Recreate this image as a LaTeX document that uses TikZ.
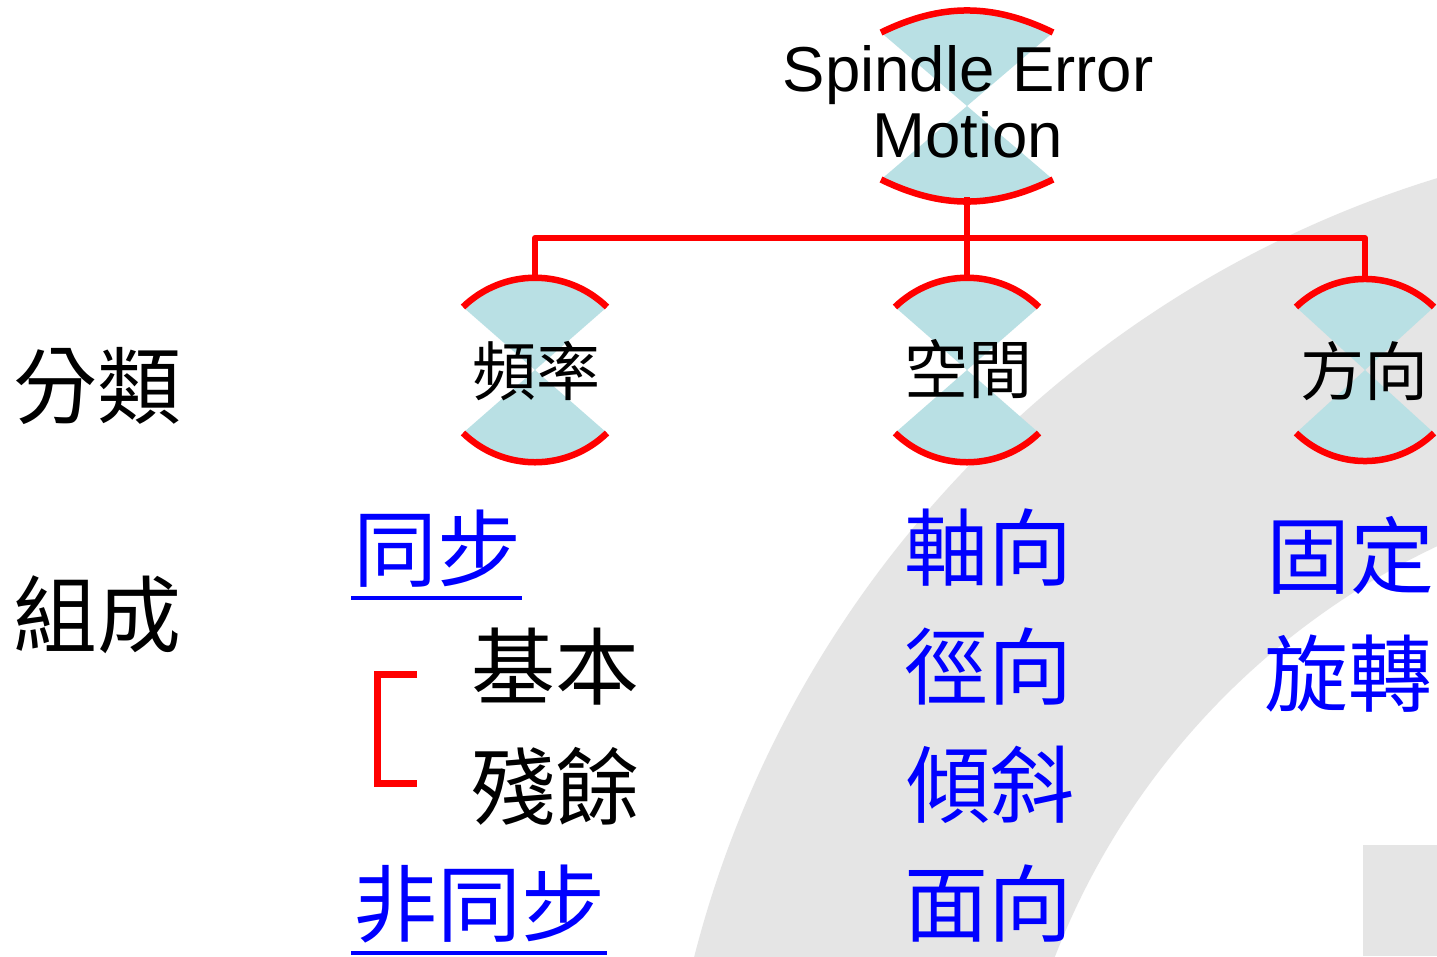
\documentclass[tikz,border=0pt]{standalone}
\usepackage{fontspec}
\setmainfont{Liberation Sans}
\newfontfamily\cjk{Noto Sans CJK TC}
\definecolor{bandgray}{RGB}{229,229,229}
\definecolor{hgblue}{RGB}{185,224,228}
\definecolor{hgred}{RGB}{255,0,0}
\definecolor{txtblue}{RGB}{0,0,255}
% #1 cx, #2 cy, #3 half width, #4 dy to arc ends, #5 dy to apex, #6 bend angle, #7 name
\newcommand\hglass[7]{%
  \fill[hgblue] (#1-#3,#2-#4) to[bend left=#6] (#1+#3,#2-#4) -- (#1,#2)
     -- (#1+#3,#2+#4) to[bend left=#6] (#1-#3,#2+#4) -- (#1,#2) -- cycle;
  \draw[hgline] (#1-#3,#2-#4) to[bend left=#6] (#1+#3,#2-#4);
  \draw[hgline] (#1-#3,#2+#4) to[bend right=#6] (#1+#3,#2+#4);
  \coordinate (#7top) at (#1,#2-#5);
  \coordinate (#7bot) at (#1,#2+#5);
}
\begin{document}
\begin{tikzpicture}[x=1pt,y=-1pt,
  hgline/.style={draw=hgred,line width=6.5pt},
  conn/.style={draw=hgred,line width=6pt,line join=round},
  brk/.style={draw=hgred,line width=7pt},
  ul/.style={draw=txtblue,line width=3.5pt},
  lbl/.style={inner sep=0pt,font=\cjk\fontsize{84}{90}\selectfont},
  blbl/.style={lbl,text=txtblue},
  cat/.style={inner sep=0pt,font=\cjk\fontsize{64}{70}\selectfont},
  root/.style={inner sep=0pt,align=center,font=\fontsize{63.5}{66}\selectfont}]
\useasboundingbox (0,0) rectangle (1437,956);
\fill[white] (0,0) rectangle (1437,956);
% background band
\begin{scope}
  \clip (0,0) rectangle (1437,956);
  \fill[bandgray,even odd rule] (1760,1230) circle[radius=1100pt] (1760,1230) circle[radius=756pt];
  \fill[bandgray] (1363,845) rectangle (1437,956);
\end{scope}
% hourglass shapes
\hglass{967}{106}{86}{73.5}{91}{26}{r}
\hglass{535}{370}{72}{63}{92}{44}{a}
\hglass{967}{370}{72}{63}{92}{44}{b}
\hglass{1365}{370}{69}{63}{92}{44}{c}
% connectors
\coordinate (bus) at (967,238);
\draw[conn] (rbot) -- (bus);
\draw[conn] (atop) |- (bus) -| (ctop);
\draw[conn] (bus) -- (btop);
% texts
\node[root] (rootlbl) at (968,102) {Spindle Error\\Motion};
\node[cat] (freq) at (536,371) {頻率};
\node[cat] (space) at (968,369) {空間};
\node[cat] (dir) at (1364,371) {方向};
\node[lbl] (fenlei) at (97,386) {分類};
\node[lbl] (zucheng) at (97,615) {組成};
\node[blbl] (sync) at (437,549) {同步};
\node[lbl] (basic) at (555,667) {基本};
\node[lbl] (resid) at (555,786) {殘餘};
\node[blbl] (async) at (479,904) {非同步};
\node[blbl] (axial) at (988,548) {軸向};
\node[blbl] (radial) at (988,666) {徑向};
\node[blbl] (tilt) at (990,785) {傾斜};
\node[blbl] (face) at (988,903) {面向};
\node[blbl] (fixed) at (1350,555) {固定};
\node[blbl] (rot) at (1348,674) {旋轉};
% underlines
\coordinate (u1a) at (351,598); \coordinate (u1b) at (522,598);
\coordinate (u2a) at (351,953); \coordinate (u2b) at (607,953);
\draw[ul] (u1a) -- (u1b);
\draw[ul] (u2a) -- (u2b);
% bracket
\coordinate (k1) at (417,674); \coordinate (k2) at (377,674);
\coordinate (k3) at (377,783); \coordinate (k4) at (417,783);
\draw[brk] (k1) -- (k2) -- (k3) -- (k4);
\end{tikzpicture}
\end{document}
